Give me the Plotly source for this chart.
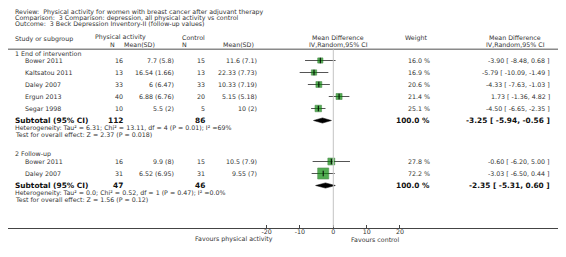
import plotly.graph_objects as go

OFF = 8  # page body margin in the browser
W, H = 566 - OFF, 257 - OFF

title_lines = [
    "Review:  Physical activity for women with breast cancer after adjuvant therapy",
    "Comparison:  3 Comparison: depression, all physical activity vs control",
    "Outcome:  3 Beck Depression Inventory-II (follow-up values)",
]

groups = ["1 End of intervention", "2 Follow-up"]
studies = [
    ["Bower 2011", "Kaltsatou 2011", "Daley 2007", "Ergun 2013", "Segar 1998"],
    ["Bower 2011", "Daley 2007"],
]
pa_n = [[16, 13, 33, 40, 10], [16, 31]]
pa_msd = [["7.7 (5.8)", "16.54 (1.66)", "6 (6.47)", "6.88 (6.76)", "5.5 (2)"],
          ["9.9 (8)", "6.52 (6.95)"]]
ct_n = [[15, 13, 33, 20, 5], [15, 31]]
ct_msd = [["11.6 (7.1)", "22.33 (7.73)", "10.33 (7.19)", "5.15 (5.18)", "10 (2)"],
          ["10.5 (7.9)", "9.55 (7)"]]
md = [[-3.90, -5.79, -4.33, 1.73, -4.50], [-0.60, -3.03]]
lo = [[-8.48, -10.09, -7.63, -1.36, -6.65], [-6.20, -6.50]]
hi = [[0.68, -1.49, -1.03, 4.82, -2.35], [5.00, 0.44]]
weight = [[16.0, 16.9, 20.6, 21.4, 25.1], [27.8, 72.2]]
sub_n = [(112, 86), (47, 46)]
sub_md = [-3.25, -2.35]
sub_lo = [-5.94, -5.31]
sub_hi = [-0.56, 0.60]
het = [
    "Heterogeneity: Tau² = 6.31; Chi² = 13.11, df = 4 (P = 0.01); I² =69%",
    "Heterogeneity: Tau² = 0.0; Chi² = 0.52, df = 1 (P = 0.47); I² =0.0%",
]
overall = ["Test for overall effect: Z = 2.37 (P = 0.018)",
           "Test for overall effect: Z = 1.56 (P = 0.12)"]
tick_vals = [-20, -10, 0, 10, 20]

# ---- layout geometry (pixels, in window coordinates) ----
FONT = "DejaVu Sans"
TXT = "#333333"
BOLD = "#111111"
FS = 6.3
FB = 7.4
AXIS_Y = 227.5 - OFF
ZERO_PX = 333.3 - OFF
PX_PER_UNIT = 3.333
xr = [(0 - ZERO_PX) / PX_PER_UNIT, (W - ZERO_PX) / PX_PER_UNIT]
group_top = [53, 154]
ROW = 12

fig = go.Figure()
ann = []


def t(px, py, text, anchor="left", size=FS, bold=False, color=TXT):
    ann.append(dict(x=(px - OFF) / W, y=1 - (py - OFF) / H, xref="paper", yref="paper",
                    text=("<b>%s</b>" % text) if bold else text, showarrow=False,
                    xanchor=anchor, yanchor="middle",
                    font=dict(family=FONT, size=size, color=color)))


def Y(py):
    return py - OFF


for i, line in enumerate(title_lines):
    t(12.7, 12.3 + i * 5.9, line)

t(12.7, 39, "Study or subgroup")
t(93, 37.3, "Physical activity")
t(112, 44.3, "N", "center")
t(139, 44.3, "Mean(SD)", "center")
t(180, 37.3, "Control")
t(184, 44.3, "N", "center")
t(238, 44.3, "Mean(SD)", "center")
t(338, 38, "Mean Difference", "center")
t(338, 44, "IV,Random,95% CI", "center")
t(416, 38, "Weight", "center")
t(515, 38, "Mean Difference", "center")
t(515, 44, "IV,Random,95% CI", "center")

for g in range(len(groups)):
    y0 = group_top[g]
    t(12.7, y0, groups[g])
    ys = []
    for k, name in enumerate(studies[g]):
        yy = y0 + 7.5 + k * ROW
        ys.append(Y(yy))
        t(23.3, yy, name)
        t(125, yy, str(pa_n[g][k]), "right")
        t(176, yy, pa_msd[g][k], "right")
        t(206.7, yy, str(ct_n[g][k]), "right")
        t(259.3, yy, ct_msd[g][k], "right")
        t(432.3, yy, "%.1f %%" % weight[g][k], "right")
        t(552.3, yy, "%.2f [ %.2f, %.2f ]" % (md[g][k], lo[g][k], hi[g][k]), "right")
        fig.add_trace(go.Scatter(x=[lo[g][k], hi[g][k]], y=[Y(yy), Y(yy)], mode="lines",
                                 line=dict(color="#555555", width=1),
                                 hoverinfo="skip", showlegend=False))
    fig.add_trace(go.Scatter(
        x=md[g], y=ys, mode="markers", showlegend=False, hoverinfo="skip",
        marker=dict(symbol="square", color="#0a8a0a",
                    size=[1.3 * w ** 0.5 for w in weight[g]],
                    line=dict(color="#066006", width=0.6))))
    fig.add_trace(go.Scatter(
        x=md[g], y=ys, mode="markers", showlegend=False, hoverinfo="skip",
        marker=dict(symbol="line-ns", size=4, line=dict(color="#000000", width=1))))
    ys_sub = y0 + 7.5 + len(studies[g]) * ROW
    t(12.7, ys_sub, "Subtotal (95% CI)", size=FB, bold=True, color=BOLD)
    t(125, ys_sub, str(sub_n[g][0]), "right", size=FB, bold=True, color=BOLD)
    t(206.7, ys_sub, str(sub_n[g][1]), "right", size=FB, bold=True, color=BOLD)
    t(432.3, ys_sub, "100.0 %", "right", size=FB, bold=True, color=BOLD)
    t(552.3, ys_sub, "%.2f [ %.2f, %.2f ]" % (sub_md[g], sub_lo[g], sub_hi[g]),
      "right", size=FB, bold=True, color=BOLD)
    yd = Y(ys_sub)
    fig.add_trace(go.Scatter(
        x=[sub_lo[g], sub_md[g], sub_hi[g], sub_md[g], sub_lo[g]],
        y=[yd, yd - 2.6, yd, yd + 2.6, yd],
        mode="lines", fill="toself", fillcolor="#000000",
        line=dict(color="#000000", width=0.5), hoverinfo="skip", showlegend=False))
    t(12.7, ys_sub + 7.3, het[g])
    t(12.7, ys_sub + 14.2, overall[g])

t(275, 239.3, "Favours physical activity", "right")
t(375, 239.3, "Favours control", "center")

shapes = [
    dict(type="line", xref="paper", yref="paper", x0=0, x1=1,
         y0=1 - Y(49.3) / H, y1=1 - Y(49.3) / H, line=dict(color="#8a8a8a", width=1.5)),
    dict(type="line", xref="x", yref="y", x0=0, x1=0, y0=Y(49.3), y1=AXIS_Y,
         line=dict(color="#c4c4c4", width=1)),
]

fig.update_layout(
    width=W, height=H, margin=dict(l=0, r=0, t=0, b=0),
    paper_bgcolor="white", plot_bgcolor="white",
    annotations=ann, shapes=shapes, showlegend=False,
    xaxis=dict(range=xr, domain=[0, 1], showgrid=False, zeroline=False,
               showline=True, linecolor="#444444", linewidth=1,
               tickvals=tick_vals, ticktext=[str(v) for v in tick_vals],
               ticks="inside", ticklen=3, tickcolor="#444444",
               ticklabelstandoff=-2,
               tickfont=dict(family=FONT, size=FS, color=TXT)),
    yaxis=dict(range=[AXIS_Y, 0], domain=[(H - AXIS_Y) / H, 1],
               visible=False, showgrid=False, zeroline=False),
)

fig.write_html("out.html")
